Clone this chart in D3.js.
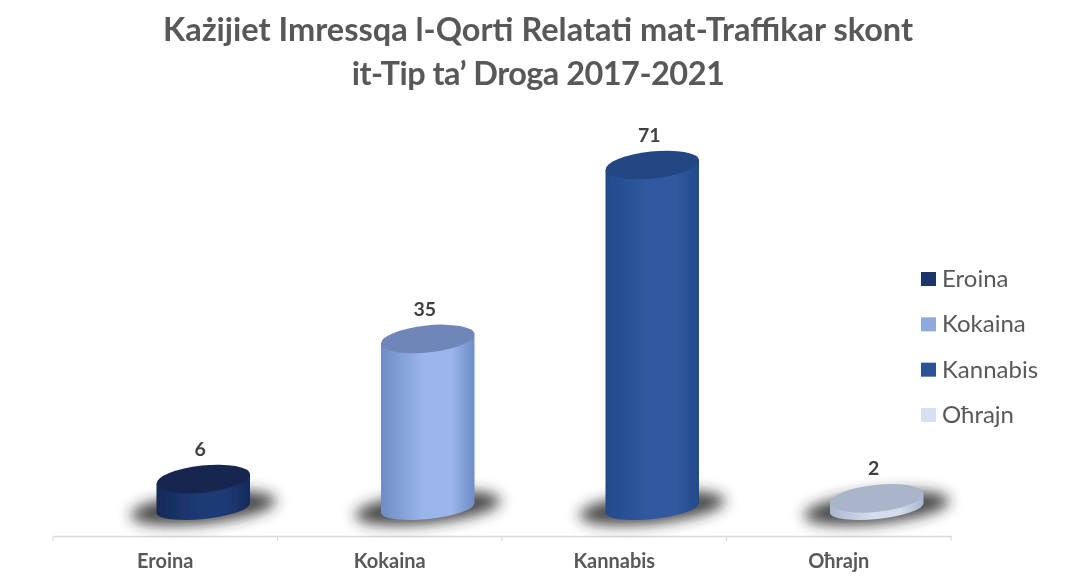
<!DOCTYPE html>
<html>
<head>
<meta charset="utf-8">
<script src="https://cdn.jsdelivr.net/npm/d3@7/dist/d3.min.js"></script>
<style>
html,body{margin:0;padding:0;background:#fff;}
svg{display:block;}
text{font-family:Lato,"Open Sans",sans-serif;}
</style>
</head>
<body>
<svg id="c" width="1078" height="583"></svg>
<script>
const categories = ["Eroina","Kokaina","Kannabis","Oħrajn"];
const values = [6,35,71,2];
const titleLines = ["Każijiet Imressqa l-Qorti Relatati mat-Traffikar skont","it-Tip ta’ Droga 2017-2021"];
const bodyEdge = ["#142a58","#6f8cc4","#234a8c","#a9b7cf"];
const bodyMid = ["#1f3a75","#9ab6ea","#31599f","#d3ddee"];
const topColors = ["#14284f","#6e86b8","#234683","#a9b5c9"];
const legendColors = ["#1b3568","#8ea9dc","#2c5296","#d6e0f1"];

const W=1078,H=583;
const svg=d3.select("#c");
const defs=svg.append("defs");
const blur=defs.append("filter").attr("id","shadowBlur").attr("x","-30%").attr("y","-60%").attr("width","160%").attr("height","220%");
blur.append("feGaussianBlur").attr("stdDeviation",7);
const soft=defs.append("filter").attr("id","soft").attr("x","-5%").attr("y","-5%").attr("width","110%").attr("height","110%");
soft.append("feGaussianBlur").attr("stdDeviation",0.6);

const x=d3.scaleBand().domain(categories).range([53,951]);
const y=d3.scaleLinear().domain([0,71]).range([508,165]);
const depthShift=38, rx=47, ry=13.5, ryBase=11, tilt=-6;
const rad=tilt*Math.PI/180, ex=rx*Math.cos(rad), ey=rx*Math.sin(rad);
const cx=d=>x(d)+x.bandwidth()/2+depthShift;

categories.forEach((c,i)=>{
  const g=defs.append("linearGradient").attr("id","g"+i).attr("x1",0).attr("x2",1).attr("y1",0).attr("y2",0);
  g.append("stop").attr("offset","0%").attr("stop-color",bodyEdge[i]);
  g.append("stop").attr("offset","45%").attr("stop-color",bodyMid[i]);
  g.append("stop").attr("offset","75%").attr("stop-color",bodyMid[i]);
  g.append("stop").attr("offset","100%").attr("stop-color",bodyEdge[i]);
});

const art=svg.append("g").attr("filter","url(#soft)");

// Title
art.selectAll("text.title").data(titleLines).join("text").attr("class","title")
  .attr("x",538).attr("y",(d,i)=>41+i*44).attr("text-anchor","middle")
  .attr("font-size",32.5).attr("font-weight",700).attr("fill","#595959")
  .attr("letter-spacing",(d,i)=>i?-0.54:0).text(d=>d);

// Axis
const axis=d3.axisBottom(x).tickSize(0).tickPadding(18);
const ag=art.append("g").attr("transform","translate(0,536)").call(axis);
ag.select(".domain").attr("stroke","#d9d9d9").attr("stroke-width",1.5);
ag.selectAll("text").attr("font-size",20).attr("font-weight",700).attr("fill","#595959").attr("font-family","Lato,'Open Sans',sans-serif");
const edges=categories.map(c=>x(c)+x.bandwidth()).concat([x(categories[0])]);
art.selectAll("line.edge").data(edges).join("line").attr("class","edge")
  .attr("x1",d=>d).attr("x2",d=>d).attr("y1",536).attr("y2",541)
  .attr("stroke","#d9d9d9").attr("stroke-width",1);

// Shadows
art.selectAll("ellipse.shadow").data(categories).join("ellipse").attr("class","shadow")
  .attr("cx",0).attr("cy",0).attr("rx",rx+26).attr("ry",ry+2)
  .attr("transform",d=>`translate(${cx(d)},${y(0)}) rotate(${tilt})`)
  .attr("fill","#2a2a2a").attr("fill-opacity",0.85).attr("filter","url(#shadowBlur)");

// Cylinders
const marks=art.selectAll("g.cyl").data(categories).join("g").attr("class","cyl");
marks.append("path").attr("fill",(d,i)=>`url(#g${i})`)
  .attr("d",(d,i)=>{
    const c=cx(d), t=y(values[i]), b=y(0);
    return `M${c-ex},${t-ey}L${c-ex},${b-ey}A${rx},${ryBase} ${tilt} 0 0 ${c+ex},${b+ey}L${c+ex},${t+ey}Z`;
  });
marks.append("ellipse").attr("rx",rx).attr("ry",ry)
  .attr("transform",(d,i)=>`translate(${cx(d)},${y(values[i])}) rotate(${tilt})`)
  .attr("fill",(d,i)=>topColors[i]);

// Value labels
art.selectAll("text.val").data(categories).join("text").attr("class","val")
  .attr("x",d=>cx(d)-3).attr("y",(d,i)=>y(values[i])-23)
  .attr("text-anchor","middle").attr("font-size",19.5).attr("font-weight",700).attr("fill","#404040")
  .text((d,i)=>values[i]);

// Legend
const ly=d3.scalePoint().domain(categories).range([279,415]);
const lg=art.selectAll("g.leg").data(categories).join("g").attr("class","leg")
  .attr("transform",d=>`translate(921,${ly(d)})`);
lg.append("rect").attr("x",0).attr("y",-7).attr("width",15).attr("height",14).attr("fill",(d,i)=>legendColors[i]);
lg.append("text").attr("x",21).attr("y",8).attr("font-size",24).attr("fill","#595959").text(d=>d);
</script>
</body>
</html>
